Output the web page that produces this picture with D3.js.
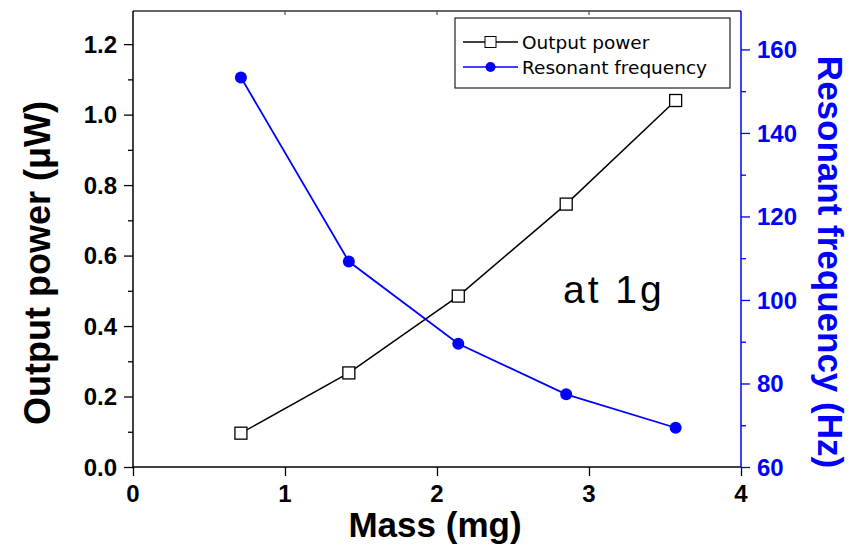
<!DOCTYPE html>
<meta charset="utf-8">
<style>
body { margin: 0; background: #fff; }
svg { font-family: 'Liberation Sans', Arial, sans-serif; }
</style>
<body>
<script src="https://d3js.org/d3.v7.min.js"></script>
<script>
// values
var mass = [0.71, 1.42, 2.14, 2.85, 3.57]
var power = [0.096, 0.267, 0.485, 0.746, 1.04]
var freq = [153.3, 109.2, 89.5, 77.4, 69.4]
var xTicks = [0, 1, 2, 3, 4]
var powerTicks = [0.0, 0.2, 0.4, 0.6, 0.8, 1.0, 1.2]
var freqTicks = [60, 80, 100, 120, 140, 160]

var width = 865, height = 548
var plotL = 133, plotR = 741, plotT = 11, plotB = 467
var blue = '#0000ff'
var font = "'Liberation Sans', Arial, sans-serif"

var svg = d3.select('body').append('svg')
    .attr('width', width)
    .attr('height', height)

var x = d3.scaleLinear().domain([0, 4]).range([plotL, plotR])
var yL = d3.scaleLinear().domain([0, 1.294]).range([plotB, plotT])
var yR = d3.scaleLinear().domain([60, 169.2]).range([plotB, plotT])

// frame top
svg.append('line')
    .attr('x1', plotL).attr('x2', plotR)
    .attr('y1', plotT).attr('y2', plotT)
    .attr('stroke', '#333').attr('stroke-width', 1.5)

svg.selectAll('.ttick')
    .data(xTicks.slice(1, 4))
    .enter().append('line')
    .attr('x1', d => x(d)).attr('x2', d => x(d))
    .attr('y1', plotT).attr('y2', plotT + 4)
    .attr('stroke', '#333')

// left axis: minor + major ticks
var gL = svg.append('g').attr('transform', 'translate(' + plotL + ',0)')
gL.append('g')
    .call(d3.axisLeft(yL).tickValues(d3.range(0.1, 1.25, 0.2)).tickSize(5).tickFormat(''))
    .call(g => g.select('.domain').remove())
gL.append('g')
    .call(d3.axisLeft(yL).tickValues(powerTicks).tickSize(9).tickFormat(''))
    .call(g => g.select('.domain').remove())
gL.selectAll('.tick line').attr('stroke-width', 1.3)
gL.append('line').attr('x1', 0).attr('x2', 0).attr('y1', plotT).attr('y2', plotB)
    .attr('stroke', '#000').attr('stroke-width', 1.5)
gL.selectAll('.lbl')
    .data(powerTicks)
    .enter().append('text')
    .attr('x', -16)
    .attr('y', d => yL(d))
    .attr('dy', '0.36em')
    .attr('text-anchor', 'end')
    .attr('fill', '#000')
    .attr('font-family', font)
    .attr('font-size', 24)
    .attr('font-weight', 'bold')
    .text(d => d.toFixed(1))

// bottom axis
var gB = svg.append('g').attr('transform', 'translate(0,' + plotB + ')')
    .call(d3.axisBottom(x).tickValues(xTicks).tickSize(9).tickFormat(''))
gB.call(g => g.select('.domain').remove())
gB.selectAll('.tick line').attr('stroke-width', 1.3)
gB.append('line').attr('x1', plotL).attr('x2', plotR)
    .attr('stroke', '#000').attr('stroke-width', 1.5)
gB.selectAll('.lbl')
    .data(xTicks)
    .enter().append('text')
    .attr('x', d => x(d))
    .attr('y', 35)
    .attr('text-anchor', 'middle')
    .attr('fill', '#000')
    .attr('font-family', font)
    .attr('font-size', 24)
    .attr('font-weight', 'bold')
    .text(d => d)

// right axis
var gR = svg.append('g').attr('transform', 'translate(' + plotR + ',0)')
gR.append('g')
    .call(d3.axisRight(yR).tickValues(d3.range(70, 170, 20)).tickSize(5).tickFormat(''))
    .call(g => g.select('.domain').remove())
gR.append('g')
    .call(d3.axisRight(yR).tickValues(freqTicks).tickSize(9).tickFormat(''))
    .call(g => g.select('.domain').remove())
gR.selectAll('.tick line').attr('stroke', blue).attr('stroke-width', 1.3)
gR.append('line').attr('x1', 0).attr('x2', 0).attr('y1', plotT).attr('y2', plotB)
    .attr('stroke', blue).attr('stroke-width', 1.5)
gR.selectAll('.lbl')
    .data(freqTicks)
    .enter().append('text')
    .attr('x', 16)
    .attr('y', d => yR(d))
    .attr('dy', '0.36em')
    .attr('fill', blue)
    .attr('font-family', font)
    .attr('font-size', 24)
    .attr('font-weight', 'bold')
    .text(d => d)

// axis titles
svg.append('text')
    .attr('transform', 'translate(50,263) rotate(-90)')
    .attr('text-anchor', 'middle')
    .attr('font-size', 36)
    .attr('font-weight', 'bold')
    .text('Output power (μW)')

svg.append('text')
    .attr('x', 435)
    .attr('y', 537)
    .attr('text-anchor', 'middle')
    .attr('font-size', 35)
    .attr('font-weight', 'bold')
    .text('Mass (mg)')

svg.append('text')
    .attr('transform', 'translate(818,262) rotate(90)')
    .attr('text-anchor', 'middle')
    .attr('fill', blue)
    .attr('font-size', 35)
    .attr('font-weight', 'bold')
    .text('Resonant frequency (Hz)')

// series
var pts = mass.map((m, i) => ({ m: m, p: power[i], f: freq[i] }))

svg.append('path')
    .datum(pts)
    .attr('fill', 'none')
    .attr('stroke', '#000')
    .attr('stroke-width', 1.5)
    .attr('d', d3.line().x(d => x(d.m)).y(d => yL(d.p)))

svg.selectAll('.sq')
    .data(pts)
    .enter().append('rect')
    .attr('x', d => x(d.m) - 6)
    .attr('y', d => yL(d.p) - 6)
    .attr('width', 12)
    .attr('height', 12)
    .attr('fill', '#fff')
    .attr('stroke', '#000')
    .attr('stroke-width', 1.3)

svg.append('path')
    .datum(pts)
    .attr('fill', 'none')
    .attr('stroke', blue)
    .attr('stroke-width', 1.8)
    .attr('d', d3.line().x(d => x(d.m)).y(d => yR(d.f)))

svg.selectAll('.dot')
    .data(pts)
    .enter().append('circle')
    .attr('cx', d => x(d.m))
    .attr('cy', d => yR(d.f))
    .attr('r', 6)
    .attr('fill', blue)

// legend
var lg = svg.append('g').attr('transform', 'translate(455,18)')
lg.append('rect')
    .attr('width', 275).attr('height', 70)
    .attr('fill', '#fff').attr('stroke', '#222').attr('stroke-width', 1.2)
lg.append('line').attr('x1', 8).attr('x2', 63).attr('y1', 24).attr('y2', 24)
    .attr('stroke', '#000').attr('stroke-width', 1.5)
lg.append('rect').attr('x', 30).attr('y', 18.5).attr('width', 11).attr('height', 11)
    .attr('fill', '#fff').attr('stroke', '#000')
lg.append('text').attr('x', 67).attr('y', 31)
    .attr('font-family', "'DejaVu Sans', sans-serif").attr('font-size', 18.5)
    .text('Output power')
lg.append('line').attr('x1', 8).attr('x2', 63).attr('y1', 49).attr('y2', 49)
    .attr('stroke', blue).attr('stroke-width', 1.5)
lg.append('circle').attr('cx', 35.5).attr('cy', 49).attr('r', 5).attr('fill', blue)
lg.append('text').attr('x', 67).attr('y', 56)
    .attr('font-family', "'DejaVu Sans', sans-serif").attr('font-size', 18.5)
    .text('Resonant frequency')

// annotation
svg.append('text')
    .attr('x', 563)
    .attr('y', 303)
    .attr('font-size', 39)
    .attr('letter-spacing', 3)
    .text('at 1g')
</script>
</body>
